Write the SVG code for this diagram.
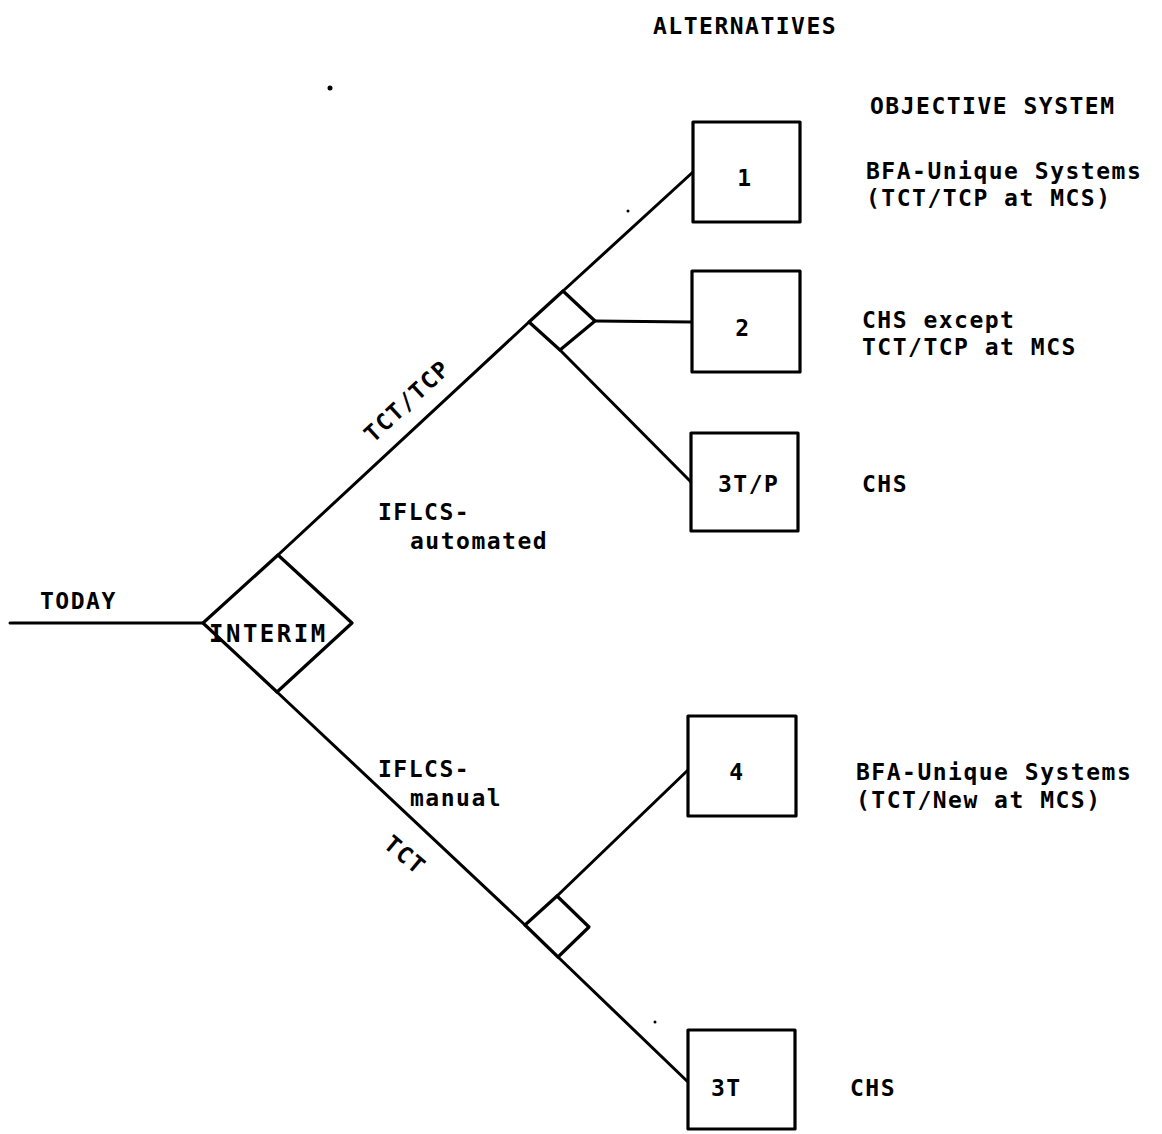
<svg xmlns="http://www.w3.org/2000/svg" width="1162" height="1134" viewBox="0 0 1162 1134">
<style>
  .ln { stroke:#000; stroke-width:3; fill:none; stroke-linecap:round; stroke-linejoin:round; }
  .bx { stroke:#000; stroke-width:3.2; fill:#fff; stroke-linejoin:round; }
  .t { font-family:"DejaVu Sans Mono","Liberation Mono",monospace; font-size:23px; letter-spacing:1.5px; fill:#000; font-weight:bold; }
  .c { text-anchor:middle; }
</style>
<rect width="1162" height="1134" fill="#fff"/>
<g id="connectors">
  <line class="ln" x1="10" y1="623" x2="203" y2="623"/>
  <line class="ln" x1="278" y1="555" x2="529" y2="322"/>
  <line class="ln" x1="563" y1="291" x2="693" y2="172"/>
  <line class="ln" x1="595" y1="321" x2="692" y2="322"/>
  <line class="ln" x1="560" y1="350" x2="691" y2="482"/>
  <line class="ln" x1="277" y1="692" x2="525" y2="925"/>
  <line class="ln" x1="557" y1="896" x2="688" y2="770"/>
  <line class="ln" x1="558" y1="957" x2="688" y2="1082"/>
</g>
<g id="labels">
  <text class="t" x="653" y="34">ALTERNATIVES</text>
  <text class="t" x="870" y="114">OBJECTIVE SYSTEM</text>
  <text class="t" x="40" y="609">TODAY</text>
  <text class="t" x="378" y="520">IFLCS-</text>
  <text class="t" x="410" y="549">automated</text>
  <text class="t" x="378" y="777">IFLCS-</text>
  <text class="t" x="410" y="806">manual</text>
  <text class="t c" transform="translate(407,401) rotate(-43)" y="8">TCT/TCP</text>
  <text class="t c" transform="translate(405,855) rotate(40)" y="8">TCT</text>
</g>
<g id="interim">
  <polygon class="bx" points="203,623 278,555 352,623 277,692"/>
  <text class="t" x="209" y="642" style="font-size:24px;letter-spacing:2.5px">INTERIM</text>
</g>
<g id="decision-upper">
  <polygon class="bx" points="529,322 563,291 595,321 560,350"/>
</g>
<g id="decision-lower">
  <polygon class="bx" points="525,925 557,896 589,927 558,957"/>
</g>
<g id="alt-1">
  <rect class="bx" x="693" y="122" width="107" height="100"/>
  <text class="t c" x="745" y="186">1</text>
  <text class="t" x="866" y="179">BFA-Unique Systems</text>
  <text class="t" x="866" y="206">(TCT/TCP at MCS)</text>
</g>
<g id="alt-2">
  <rect class="bx" x="692" y="271" width="108" height="101"/>
  <text class="t c" x="743" y="336">2</text>
  <text class="t" x="862" y="328">CHS except</text>
  <text class="t" x="862" y="355">TCT/TCP at MCS</text>
</g>
<g id="alt-3TP">
  <rect class="bx" x="691" y="433" width="107" height="98"/>
  <text class="t" x="718" y="492">3T/P</text>
  <text class="t" x="862" y="492">CHS</text>
</g>
<g id="alt-4">
  <rect class="bx" x="688" y="716" width="108" height="100"/>
  <text class="t c" x="737" y="780">4</text>
  <text class="t" x="856" y="780">BFA-Unique Systems</text>
  <text class="t" x="856" y="808">(TCT/New at MCS)</text>
</g>
<g id="alt-3T">
  <rect class="bx" x="688" y="1030" width="107" height="99"/>
  <text class="t" x="711" y="1096">3T</text>
  <text class="t" x="850" y="1096">CHS</text>
</g>
<g id="specks">
  <circle cx="330" cy="88" r="2.5" fill="#000"/>
  <circle cx="628" cy="211" r="1.5" fill="#000"/>
  <circle cx="655" cy="1022" r="1.5" fill="#000"/>
</g>
</svg>
